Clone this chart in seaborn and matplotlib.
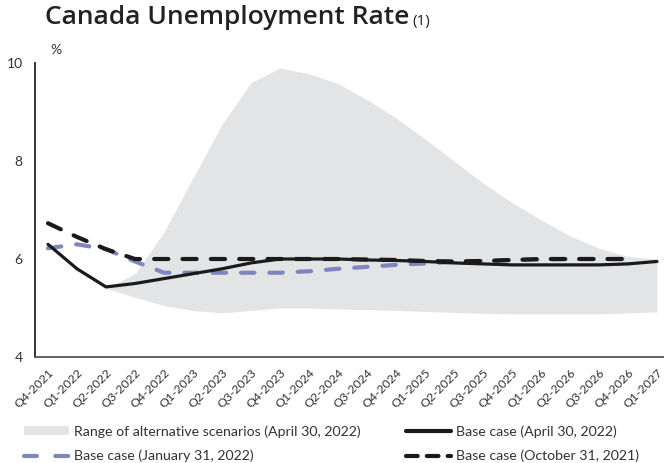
import numpy as np
import pandas as pd
import matplotlib
matplotlib.use("Agg")
import matplotlib.pyplot as plt
import matplotlib.transforms as mtransforms
import seaborn as sns
from matplotlib.lines import Line2D
from matplotlib.patches import Patch

quarters = ["Q4-2021", "Q1-2022", "Q2-2022", "Q3-2022", "Q4-2022", "Q1-2023", "Q2-2023",
            "Q3-2023", "Q4-2023", "Q1-2024", "Q2-2024", "Q3-2024", "Q4-2024", "Q1-2025",
            "Q2-2025", "Q3-2025", "Q4-2025", "Q1-2026", "Q2-2026", "Q3-2026", "Q4-2026", "Q1-2027"]

base_apr2022 = [6.3, 5.8, 5.43, 5.5, 5.6, 5.7, 5.8, 5.92, 6.0, 6.0, 6.0, 5.98, 5.97, 5.95,
                5.92, 5.9, 5.88, 5.88, 5.88, 5.88, 5.9, 5.95]
base_oct2021 = [6.73, 6.45, 6.2, 6.0, 6.0, 6.0, 6.0, 6.0, 6.0, 6.0, 6.0, 5.99, 5.98, 5.96,
                5.95, 5.96, 5.98, 6.0, 6.0, 6.0, 6.0]
base_jan2022 = [6.22, 6.3, 6.2, 5.95, 5.72, 5.72, 5.72, 5.72, 5.72, 5.75, 5.8, 5.84, 5.88,
                5.91, 5.94, 5.96, 5.98, 5.99, 6.0, 6.0, 6.0]
range_upper = [np.nan, np.nan, 5.4, 5.7, 6.55, 7.65, 8.75, 9.6, 9.9, 9.78, 9.58, 9.25, 8.88,
               8.45, 8.0, 7.55, 7.15, 6.8, 6.47, 6.22, 6.05, 6.0]
range_lower = [np.nan, np.nan, 5.4, 5.22, 5.05, 4.95, 4.9, 4.95, 5.0, 5.0, 4.98, 4.97, 4.95,
               4.93, 4.91, 4.89, 4.88, 4.88, 4.88, 4.88, 4.9, 4.92]

sns.set_theme(style="white")
FONT = ["Lato", "DejaVu Sans"]
plt.rcParams["font.family"] = FONT
TXT = "#333333"

fig = plt.figure(figsize=(6.64, 4.63), dpi=100)
ax = fig.add_axes([35 / 664, 1 - 357 / 463, 1 - 35 / 664, (357 - 63) / 463])

x = np.arange(len(quarters))
GRAY = "#e3e4e6"
BLUE = "#7f86be"
ax.fill_between(x, range_lower, range_upper, color=GRAY, lw=0, zorder=1)

df_apr = pd.DataFrame({"x": x, "y": base_apr2022})
df_oct = pd.DataFrame({"x": x[:len(base_oct2021)], "y": base_oct2021})
df_jan = pd.DataFrame({"x": x[:len(base_jan2022)], "y": base_jan2022})

sns.lineplot(data=df_jan, x="x", y="y", ax=ax, color=BLUE, lw=3.0, zorder=3)
ljan = ax.lines[-1]
ljan.set_dashes([3.2, 3.6]); ljan.set_dash_capstyle("round")
sns.lineplot(data=df_oct, x="x", y="y", ax=ax, color="#1a1a1a", lw=3.0, zorder=4)
loct = ax.lines[-1]
loct.set_dashes([3.4, 3.4]); loct.set_dash_capstyle("round")
sns.lineplot(data=df_apr, x="x", y="y", ax=ax, color="#1a1a1a", lw=2.3, zorder=5)
ax.lines[-1].set_solid_capstyle("round"); ax.lines[-1].set_solid_joinstyle("miter")

ax.set_ylim(4, 10)
ax.set_xlim(-13 / 29, (664 - 48) / 29)
ax.set_yticks([4, 6, 8, 10])
ax.set_yticklabels(["4", "6", "8", "10"], fontsize=10, color=TXT)
ax.set_xlabel("")
ax.set_ylabel("")
ax.set_xticks(x)
ax.set_xticklabels([])
ax.tick_params(axis="y", length=0, pad=9)
ax.tick_params(axis="x", length=0)
# rotated category labels, anchored just under each category position
off = mtransforms.ScaledTranslation(4 / 100, -14 / 100, fig.dpi_scale_trans)
for xi, q in zip(x, quarters):
    ax.text(xi, 0, q, transform=ax.get_xaxis_transform() + off, rotation=45, ha="right",
            va="center", rotation_mode="anchor", fontsize=8.8, color=TXT)
for s in ["top", "right"]:
    ax.spines[s].set_visible(False)
ax.spines["left"].set_color("#222222")
ax.spines["bottom"].set_color("#555555")
ax.spines["left"].set_linewidth(1.3)
ax.spines["bottom"].set_linewidth(1.3)
ax.patch.set_alpha(0)

fig.text(45 / 664, 1 - 18 / 463, "Canada Unemployment Rate", fontsize=19, fontweight="semibold",
         family=["Open Sans", "DejaVu Sans"], color="#222222", va="center", ha="left")
fig.text(412 / 664, 1 - 21 / 463, "(1)", fontsize=11, family=["Open Sans", "DejaVu Sans"],
         color="#222222", va="center", ha="left")
fig.text(50 / 664, 1 - 50 / 463, "%", fontsize=10, color=TXT, va="center", ha="left")

h_range = Patch(facecolor=GRAY, edgecolor="none")
h_jan = Line2D([], [], color=BLUE, lw=3.0, dashes=[3.1, 4.4], dash_capstyle="round")
h_apr = Line2D([], [], color="#1a1a1a", lw=3.0, solid_capstyle="round")
h_oct = Line2D([], [], color="#1a1a1a", lw=3.0, dashes=[2.8, 2.2], dash_capstyle="round")

leg_kw = dict(loc="upper left", frameon=False, fontsize=10.2, labelcolor=TXT, handlelength=3.2,
              handleheight=0.5, handletextpad=0.3, labelspacing=0.85, borderaxespad=0,
              borderpad=0)
leg1 = fig.legend([h_range, h_jan], ["Range of alternative scenarios (April 30, 2022)",
                                     "Base case (January 31, 2022)"],
                  bbox_to_anchor=(24 / 664, 1 - 425 / 463), **leg_kw)
leg2 = fig.legend([h_apr, h_oct], ["Base case (April 30, 2022)", "Base case (October 31, 2021)"],
                  bbox_to_anchor=(406 / 664, 1 - 425 / 463), **leg_kw)

fig.savefig("out.png", dpi=100)
